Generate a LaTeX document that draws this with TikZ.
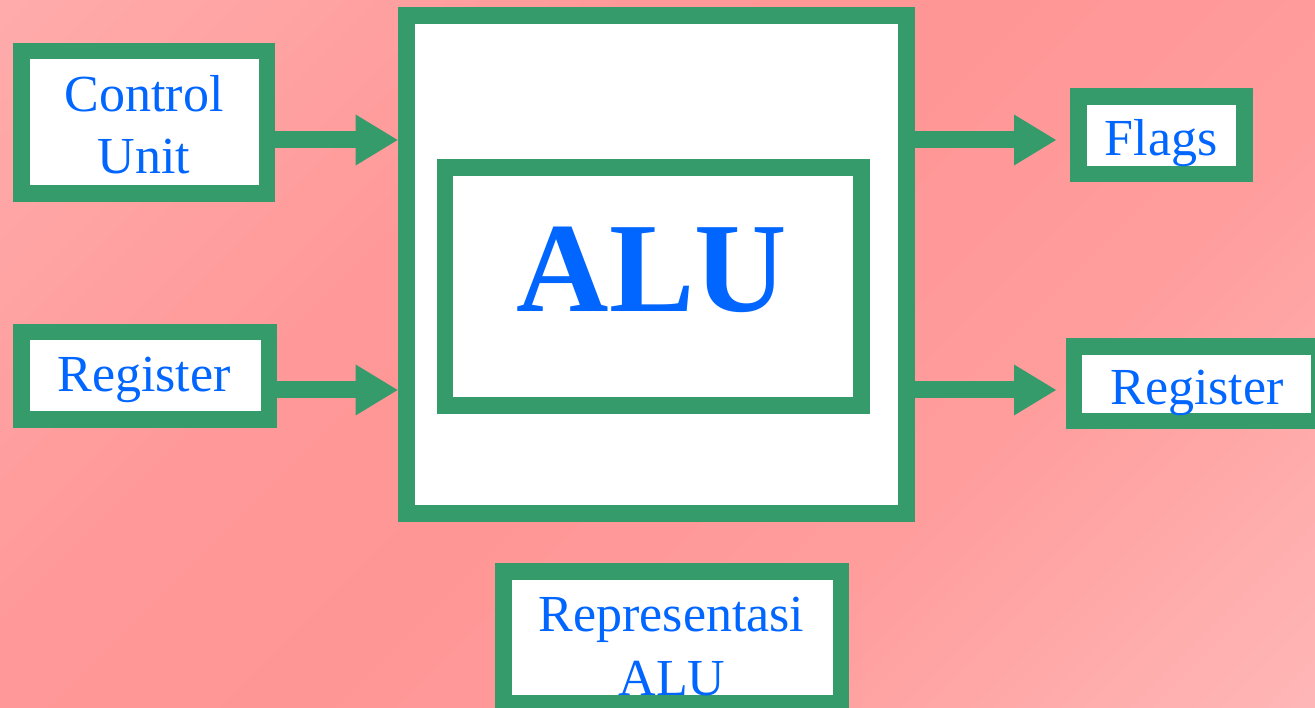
\documentclass[tikz,border=0pt]{standalone}
\usepackage{fontspec}
\setmainfont{Liberation Serif}
\usetikzlibrary{arrows.meta}
\definecolor{grn}{RGB}{54,155,107}
\definecolor{txt}{RGB}{0,102,255}
\definecolor{bgA}{RGB}{255,186,186}
\definecolor{bgB}{RGB}{255,182,182}
\definecolor{bgC}{RGB}{255,157,157}
\definecolor{bgD}{RGB}{255,150,150}
\definecolor{bgE}{RGB}{255,152,152}
\definecolor{bgF}{RGB}{255,171,171}
\definecolor{bgG}{RGB}{255,174,174}
\pgfdeclareverticalshading{bgsh}{100bp}{color(0bp)=(bgA); color(15bp)=(bgB); color(35bp)=(bgC); color(50bp)=(bgD); color(62bp)=(bgE); color(85bp)=(bgF); color(100bp)=(bgG)}
\begin{document}
\begin{tikzpicture}[x=1pt,y=-1pt,
  gbox/.style={rectangle, draw=grn, fill=white, line width=16.5pt, inner sep=0pt},
  lbl/.style={text=txt, font=\fontsize{52}{62.5}\selectfont, inner sep=0pt, anchor=base},
  conn/.style={draw=grn, line width=17pt, shorten <=-3pt,
    -{Triangle[length=42pt,width=51pt,line width=0pt]}}]
\useasboundingbox (0,0) rectangle (1315,708);
\clip (0,0) rectangle (1315,708);
\shade[shading=bgsh, shading angle=45] (0,0) rectangle (1315,708);
% boxes
\node[gbox, minimum width=245.5pt, minimum height=142.5pt] (cu) at (144,122.5) {};
\node[gbox, minimum width=247.5pt, minimum height=87.5pt] (regL) at (145,376) {};
\node[gbox, line width=17pt, minimum width=500.4pt, minimum height=497.6pt] (alu) at (656.3,264.7) {};
\node[gbox, minimum width=416.8pt, minimum height=238pt] (core) at (653.15,286.75) {};
\node[gbox, minimum width=166.2pt, minimum height=77.5pt] (flags) at (1161.35,135.3) {};
\node[gbox, minimum width=244.8pt, minimum height=74.5pt] (regR) at (1196.35,383.8) {};
\node[gbox, minimum width=337.8pt, minimum height=131.7pt] (rep) at (672.15,637.4) {};
% connectors
\coordinate (ya) at (0,140);
\coordinate (yb) at (0,390);
\draw[conn] (cu.east |- ya) -- (alu.west |- ya);
\draw[conn] (regL.east |- yb) -- (alu.west |- yb);
\draw[conn, shorten >=14pt] (alu.east |- ya) -- (flags.west |- ya);
\draw[conn, shorten >=9.7pt] (alu.east |- yb) -- (regR.west |- yb);
% texts
\node[lbl] (cuA) at (144,111.7) {Control};
\node[lbl] (cuB) at (144,174) {Unit};
\node[lbl] (regLt) at (144,391.7) {Register};
\node[lbl, font=\bfseries\fontsize{128}{150}\selectfont] (aluT) at (652,311.6) {ALU};
\node[lbl] (flagsT) at (1161,156) {Flags};
\node[lbl] (regRt) at (1197,405) {Register};
\node[lbl] (repA) at (671.5,631.7) {Representasi};
\node[lbl] (repB) at (672,695) {ALU};
\end{tikzpicture}
\end{document}
